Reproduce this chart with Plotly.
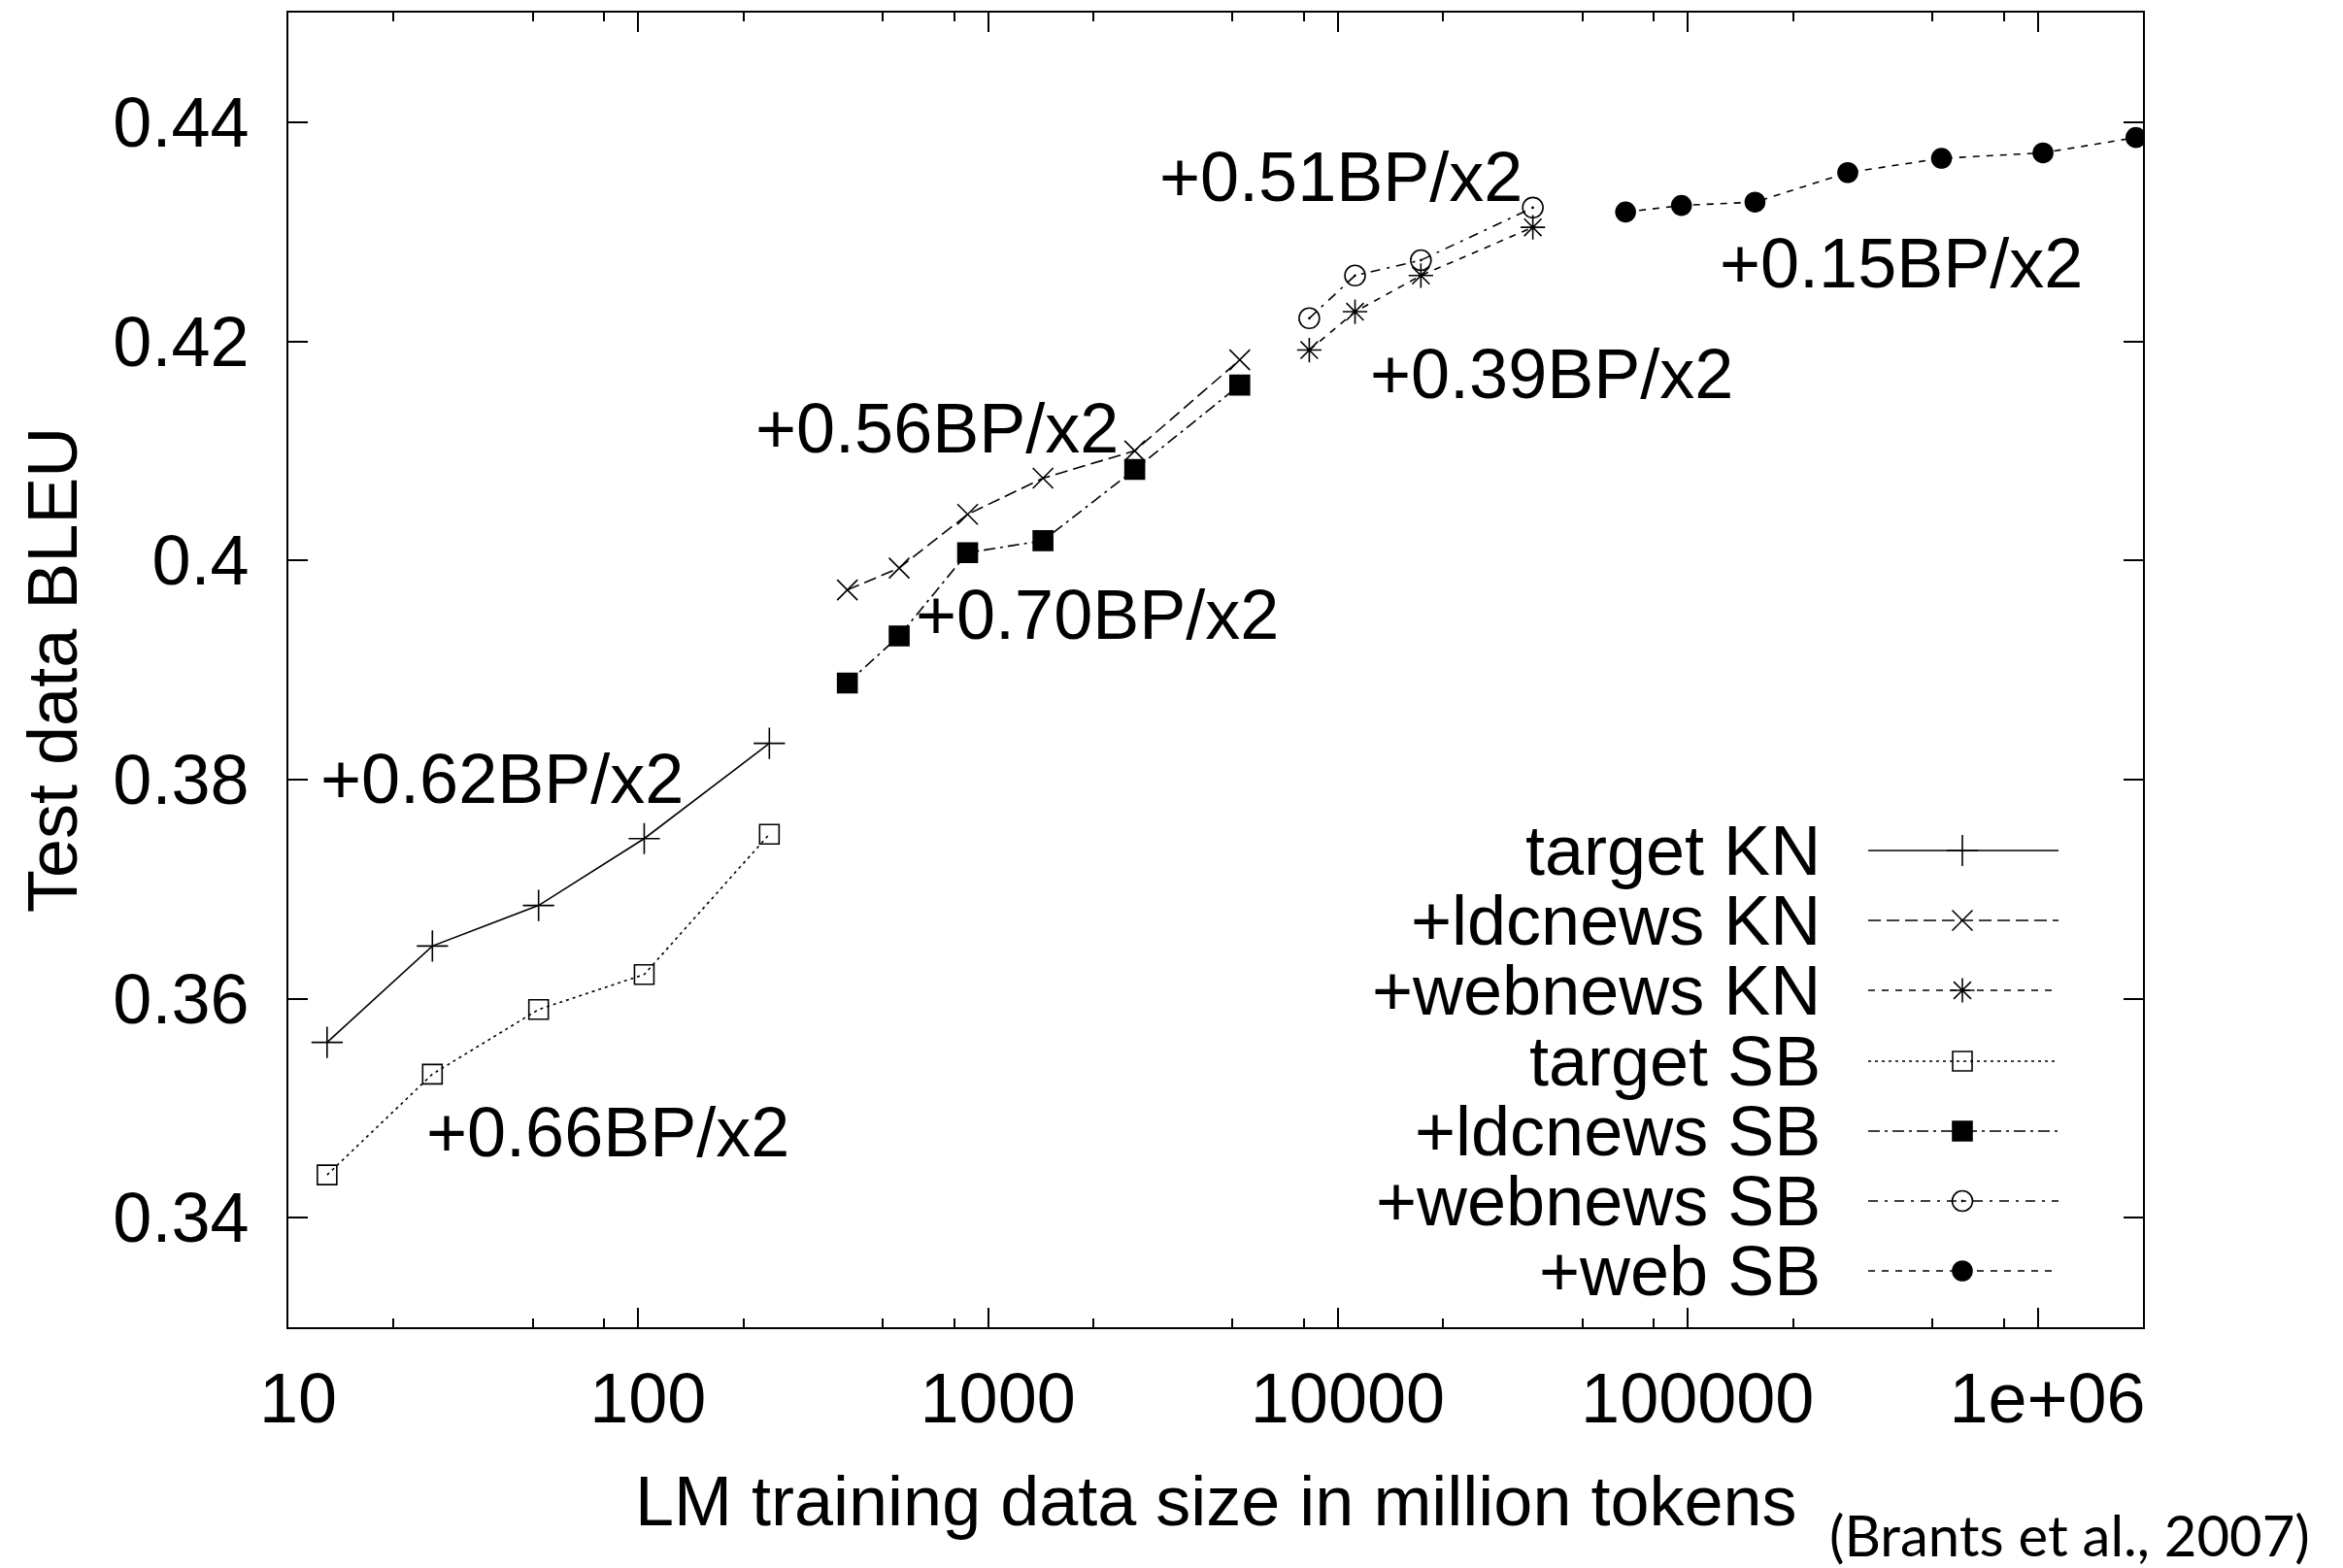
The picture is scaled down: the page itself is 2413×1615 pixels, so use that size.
import plotly.graph_objects as go

# ---------------- data ----------------
target_x = [12.9, 25.8, 51.9, 104, 237]
target_kn_y = [0.3560, 0.3648, 0.3685, 0.3746, 0.3833]
target_sb_y = [0.3439, 0.3531, 0.3590, 0.3622, 0.3750]

ldc_x = [396, 557, 874, 1435, 2625, 5240]
ldc_kn_y = [0.3973, 0.3993, 0.4042, 0.4075, 0.4100, 0.4183]
ldc_sb_y = [0.3888, 0.3931, 0.4007, 0.4018, 0.4083, 0.4160]

webnews_x = [8280, 11190, 17260, 36060]
webnews_kn_y = [0.4192, 0.4227, 0.4260, 0.4304]
webnews_sb_y = [0.4221, 0.4260, 0.4274, 0.4322]

web_x = [66400, 95900, 155600, 286500, 531000, 1036000, 1910000]
web_sb_y = [0.4318, 0.4324, 0.4327, 0.4354, 0.4367, 0.4372, 0.4386]

series_names = ["target KN", "+ldcnews KN", "+webnews KN", "target SB",
                "+ldcnews SB", "+webnews SB", "+web SB"]

x_tickvals = [10, 100, 1000, 10000, 100000, 1000000]
x_ticktext = ["10", "100", "1000", "10000", "100000", "1e+06"]
x_minor = [m * 10 ** e for e in range(1, 7) for m in (2, 5, 8)]
y_tickvals = [0.34, 0.36, 0.38, 0.40, 0.42, 0.44]
y_ticktext = ["0.34", "0.36", "0.38", "0.4", "0.42", "0.44"]

gains = ["+0.62BP/x2", "+0.66BP/x2", "+0.56BP/x2", "+0.70BP/x2",
         "+0.51BP/x2", "+0.39BP/x2", "+0.15BP/x2"]

# ---------------- layout constants ----------------
W, H = 2413, 1615
L, R, T, B = 297, 2207, 13, 1367
FONT = "Liberation Sans, Arial, Helvetica, sans-serif"
FS = 72


def px(xp):
    return (xp - L) / (R - L)


def py(yp):
    return (B - yp) / (B - T)


styles = [
    dict(dash="solid", symbol="cross-thin-open", size=23),
    dict(dash="13px,6px", symbol="x-thin-open", size=21),
    dict(dash="7px,7px", symbol="asterisk-open", size=21),
    dict(dash="3px,4px", symbol="square-open", size=20),
    dict(dash="12px,5px,3px,5px", symbol="square", size=20),
    dict(dash="10px,7px,3px,7px", symbol="circle-open-dot", size=21),
    dict(dash="7px,7px", symbol="circle", size=20),
]

data = [
    (target_x, target_kn_y),
    (ldc_x, ldc_kn_y),
    (webnews_x, webnews_kn_y),
    (target_x, target_sb_y),
    (ldc_x, ldc_sb_y),
    (webnews_x, webnews_sb_y),
    (web_x, web_sb_y),
]

fig = go.Figure()
for (xs, ys), st, name in zip(data, styles, series_names):
    fig.add_trace(go.Scatter(
        x=xs, y=ys, mode="lines+markers", name=name, showlegend=False,
        line=dict(color="black", width=1.6, dash=st["dash"]),
        marker=dict(symbol=st["symbol"], size=st["size"], color="black",
                    line=dict(color="black", width=1.6)),
    ))

# ---------------- custom legend (text left, sample right) ----------------
leg_rows = [876, 948, 1020, 1093, 1165, 1237, 1309]
leg_x0, leg_xm, leg_x1 = 1924, 2021, 2120
leg_text_right = 1877
annotations = []
for st, name, yr in zip(styles, series_names, leg_rows):
    fig.add_trace(go.Scatter(
        x=[leg_x0, leg_x1], y=[yr, yr], mode="lines", showlegend=False,
        xaxis="x3", yaxis="y3", hoverinfo="skip",
        line=dict(color="black", width=1.6, dash=st["dash"]),
    ))
    fig.add_trace(go.Scatter(
        x=[leg_xm], y=[yr], mode="markers", showlegend=False,
        xaxis="x3", yaxis="y3", hoverinfo="skip",
        marker=dict(symbol=st["symbol"], size=st["size"], color="black",
                    line=dict(color="black", width=1.6)),
    ))
    annotations.append(dict(
        text=name, xref="paper", yref="paper", x=px(leg_text_right), y=py(yr),
        xanchor="right", yanchor="middle", showarrow=False,
        font=dict(family=FONT, size=FS, color="black"),
    ))

# ---------------- gain annotations ----------------
gain_pos = [(328, 802), (437, 1166), (776, 441), (941, 633),
            (1192, 182), (1409, 385), (1769, 271)]
for txt, (gx, gy) in zip(gains, gain_pos):
    annotations.append(dict(
        text=txt, xref="paper", yref="paper", x=px(gx), y=py(gy),
        xanchor="left", yanchor="middle", showarrow=False,
        font=dict(family=FONT, size=FS, color="black"),
    ))

# axis titles
annotations.append(dict(
    text="Test data BLEU", xref="paper", yref="paper", x=px(54), y=py(690),
    xanchor="center", yanchor="middle", textangle=-90, showarrow=False,
    font=dict(family=FONT, size=FS, color="black"),
))
annotations.append(dict(
    text="LM training data size in million tokens", xref="paper", yref="paper",
    x=px(1252), y=py(1546), xanchor="center", yanchor="middle", showarrow=False,
    font=dict(family=FONT, size=FS, color="black"),
))
annotations.append(dict(
    text="(Brants et al., 2007)", xref="paper", yref="paper",
    x=px(2131), y=py(1580), xanchor="center", yanchor="middle", showarrow=False,
    font=dict(family="Lato, Open Sans, sans-serif", size=58, color="black"),
))
annotations.append(dict(
    text="15", xref="paper", yref="paper",
    x=px(1104), y=py(1604), xanchor="center", yanchor="top", showarrow=False,
    font=dict(family=FONT, size=48, color="black"),
))

axis_common = dict(
    showline=True, linecolor="black", linewidth=2.2, mirror="allticks",
    ticks="inside", tickcolor="black", tickwidth=2, ticklen=20,
    showgrid=False, zeroline=False,
    tickfont=dict(family=FONT, size=FS, color="black"),
)

fig.update_layout(
    width=W, height=H,
    margin=dict(l=L, r=W - R, t=T, b=H - B, pad=0),
    paper_bgcolor="white", plot_bgcolor="white",
    showlegend=False,
    xaxis=dict(type="log", range=[1, 6.301], tickvals=x_tickvals,
               ticktext=x_ticktext, ticklabelstandoff=9, ticklabelshift=10,
               minor=dict(tickvals=x_minor, ticks="inside", ticklen=9,
                          tickwidth=2, tickcolor="black", showgrid=False),
               **axis_common),
    yaxis=dict(range=[0.33, 0.45], tickvals=y_tickvals, ticktext=y_ticktext,
               ticklabelstandoff=24, **axis_common),
    xaxis3=dict(overlaying="x", anchor="y3", range=[L, R], visible=False,
                fixedrange=True),
    yaxis3=dict(overlaying="y", anchor="x3", range=[B, T], visible=False,
                fixedrange=True),
    annotations=annotations,
)

fig.write_html("out.html",
               config={"displayModeBar": False},
               post_script="document.body.style.margin='0px';"
                           "document.body.style.overflow='hidden';")
